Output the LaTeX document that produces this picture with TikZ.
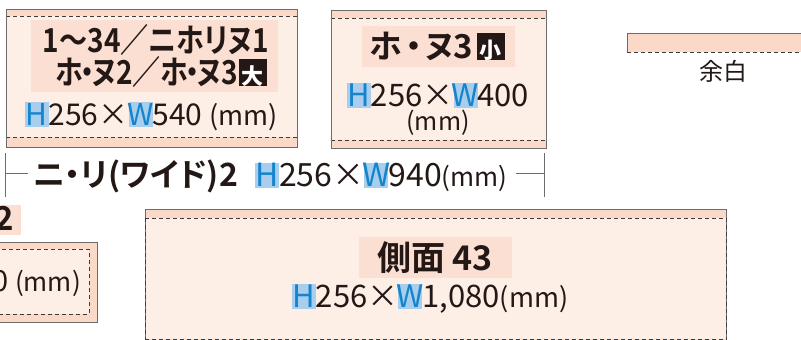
\documentclass[tikz,border=0pt]{standalone}
\usepackage{fontspec}
\setmainfont{Noto Sans CJK JP}[BoldFont={Noto Sans CJK JP Bold}]
\newfontfamily\jpt{Noto Sans CJK JP Bold}[RawFeature=+palt]
\definecolor{mrg}{HTML}{FAD9C8}
\definecolor{inn}{HTML}{FDEEE6}
\definecolor{hil}{HTML}{FBDFD2}
\definecolor{outl}{HTML}{6E6B6B}
\definecolor{dsh}{HTML}{3E3A39}
\definecolor{txt}{HTML}{231815}
\definecolor{hwbg}{HTML}{A9CDEC}
\definecolor{hwfg}{HTML}{1485CC}
\newcommand{\hw}[1]{{\setlength{\fboxsep}{0pt}\colorbox{hwbg}{\makebox[24pt]{\rule[-2pt]{0pt}{25pt}\textcolor{hwfg}{#1}}}}}
\newcommand{\bk}[1]{{\setlength{\fboxsep}{0pt}\colorbox{txt}{\makebox[28pt]{\rule[-1pt]{0pt}{26pt}\textcolor{white}{\fontsize{22}{22}\selectfont\bfseries #1}}}}}
\newcommand{\nd}{\kern-0.1em・\kern-0.1em}
\newcommand{\fs}[1]{\fontsize{#1}{#1}\selectfont}
\tikzset{
  outline/.style={draw=outl, line width=0.9pt},
  dashln/.style={draw=dsh, line width=0.8pt, dash pattern=on 4pt off 3pt},
  ttl/.style={inner sep=0pt, text=txt, font=\jpt\fs{33}},
  hwt/.style={inner sep=0pt, text=txt, font=\fs{29}},
  dimln/.style={draw=outl, line width=1pt},
}
\begin{document}
\begin{tikzpicture}[x=1pt,y=-1pt]
\useasboundingbox (0,0) rectangle (801,340);
\clip (0,0) rectangle (801,340);
% ---- box 1
\fill[mrg] (6,9) rectangle (297,147);
\fill[inn] (6,16) rectangle (297,137);
\draw[dashln] (6,16) -- (297,16);
\draw[dashln] (6,137) -- (297,137);
\draw[outline] (6,9) rectangle (297,147);
\fill[hil] (31,20) rectangle (278,92);
\node[ttl, anchor=base] (t1a) at (156,52) {\scalebox{0.85}[1]{1〜34／ニホリヌ1}};
\node[ttl, anchor=base east] (t1b) at (267,84) {\scalebox{0.85}[1]{ホ\nd ヌ2／ホ\nd ヌ3}\kern1pt\bk{大}};
\node[hwt, anchor=base, font=\fs{30}] (hw1) at (151,125) {\hw{H}256×\hw{W}540 {\fs{27}(mm)}};
% ---- box 2
\fill[mrg] (331,10) rectangle (546,148);
\fill[inn] (331,18) rectangle (546,140);
\draw[dashln] (331,18) -- (546,18);
\draw[dashln] (331,140) -- (546,140);
\draw[outline] (331,10) rectangle (546,148);
\fill[hil] (362,26) rectangle (515,67);
\node[ttl, anchor=base east] (t2) at (505,58) {ホ\kern3pt・\kern3pt ヌ3\kern4pt\bk{小}};
\node[hwt, anchor=base, font=\fs{31}] (hw2) at (438,106) {\hw{H}256×\hw{W}400};
\node[hwt, anchor=base, font=\fs{25}] (mm2) at (438,130) {(mm)};
% ---- legend
\fill[mrg] (627,33) rectangle (805,52);
\draw[outline] (805,33) -- (627,33) -- (627,52);
\draw[dashln] (627,52) -- (805,52);
\node[inner sep=0pt, text=txt, font=\fs{24}, anchor=base] (yohaku) at (723,80) {余白};
% ---- dimension line
\coordinate (lt1) at (5,153); \coordinate (lt2) at (5,197);
\coordinate (la) at (5,173); \coordinate (lb) at (28,173);
\coordinate (rt1) at (544,153); \coordinate (rt2) at (544,197);
\coordinate (ra) at (516,173); \coordinate (rb) at (544,173);
\draw[dimln] (lt1) -- (lt2);
\draw[dimln] (rt1) -- (rt2);
\draw[dimln] (la) -- (lb);
\draw[dimln] (ra) -- (rb);
\node[inner sep=0pt, text=txt, font=\jpt\fs{32}, anchor=base west] (dimt) at (33,186) {ニ・リ(ワイド)2};
\node[inner sep=0pt, text=txt, font=\fs{32}, anchor=base west] (dimhw) at (255,186)
  {\hw{H}256×\hw{W}940{\fs{26}(mm)}};
% ---- bottom-left box
\fill[hil] (-5,205) rectangle (21,235);
\node[ttl, anchor=base east] (bl2) at (14,230) {2};
\fill[mrg] (-5,242) rectangle (97,322);
\fill[inn] (-5,249) rectangle (89,314);
\draw[dashln] (-5,249) -- (89,249) -- (89,314) -- (-5,314);
\draw[outline] (-5,242) rectangle (97,322);
\node[hwt, anchor=base east] (blmm) at (81,291) {0 {\fs{26}(mm)}};
% ---- large box
\fill[mrg] (145,209) rectangle (726,345);
\fill[inn] (145,218) rectangle (726,339);
\draw[outline] (145,345) -- (145,209) -- (726,209) -- (726,345);
\draw[dashln] (145,218) -- (726,218);
\draw[dashln] (145,339) -- (726,339);
\draw[dashln] (145,218) -- (145,345);
\draw[dashln] (726,218) -- (726,345);
\fill[hil] (359,237) rectangle (512,278);
\node[ttl, anchor=base, font=\jpt\fs{34}] (t3) at (435,270) {側面 43};
\node[hwt, anchor=base, font=\fs{31}] (hw3) at (430,307) {\hw{H}256×\hw{W}1,080{\fs{27}(mm)}};
\end{tikzpicture}
\end{document}
